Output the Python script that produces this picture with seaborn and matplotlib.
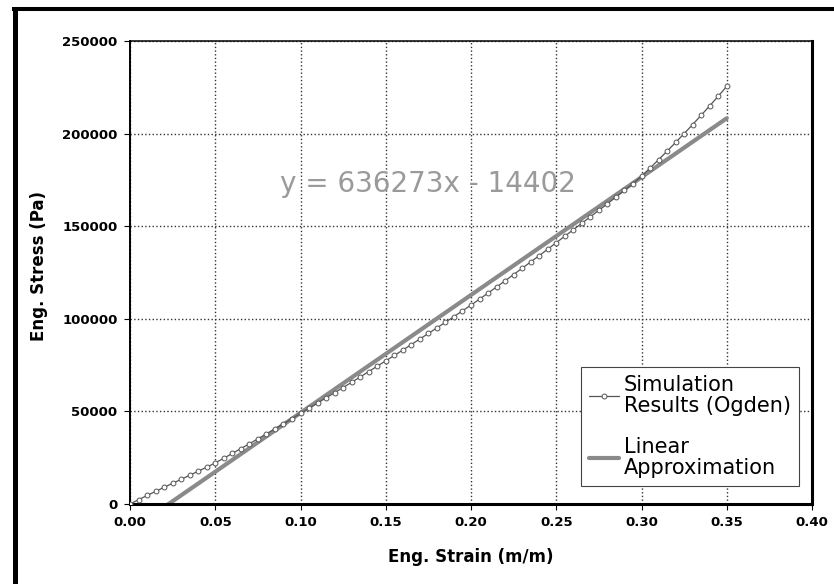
import pandas as pd
import matplotlib
matplotlib.use("Agg")
import matplotlib.pyplot as plt
from matplotlib.lines import Line2D
import seaborn as sns


# simulated stress-strain curve (Ogden)
strain = [0.000, 0.005, 0.010, 0.015, 0.020, 0.025, 0.030, 0.035, 0.040, 0.045,
          0.050, 0.055, 0.060, 0.065, 0.070, 0.075, 0.080, 0.085, 0.090, 0.095,
          0.100, 0.105, 0.110, 0.115, 0.120, 0.125, 0.130, 0.135, 0.140, 0.145,
          0.150, 0.155, 0.160, 0.165, 0.170, 0.175, 0.180, 0.185, 0.190, 0.195,
          0.200, 0.205, 0.210, 0.215, 0.220, 0.225, 0.230, 0.235, 0.240, 0.245,
          0.250, 0.255, 0.260, 0.265, 0.270, 0.275, 0.280, 0.285, 0.290, 0.295,
          0.300, 0.305, 0.310, 0.315, 0.320, 0.325, 0.330, 0.335, 0.340, 0.345,
          0.350]
stress = [0, 2300, 4600, 6800, 9000, 11200, 13300, 15500, 17700, 19900,
          22200, 24700, 27300, 29900, 32500, 35200, 37900, 40600, 43300, 46100,
          48900, 51700, 54500, 57300, 60100, 62900, 65700, 68600, 71500, 74400,
          77300, 80200, 83100, 86100, 89100, 92100, 95100, 98100, 101200, 104300,
          107400, 110600, 113900, 117200, 120500, 123900, 127300, 130700, 134100, 137600,
          141100, 144600, 148100, 151600, 155100, 158600, 162100, 165700, 169300, 173000,
          177000, 181400, 185900, 190500, 195200, 200000, 204900, 209900, 215000, 220200,
          225500]

# linear trendline  y = 636273x - 14402
slope = 636273
intercept = -14402
lin_strain = [0.0, 0.35]

x_ticks = [0.00, 0.05, 0.10, 0.15, 0.20, 0.25, 0.30, 0.35, 0.40]
y_ticks = [0, 50000, 100000, 150000, 200000, 250000]

sim = pd.DataFrame({"strain": strain, "stress": stress})
lin = pd.DataFrame({"strain": lin_strain})
lin["stress"] = slope * lin["strain"] + intercept

sns.set_style("white")
plt.rcParams["font.family"] = ["DejaVu Sans"]
plt.rcParams["text.color"] = "black"
plt.rcParams["axes.labelcolor"] = "black"
plt.rcParams["xtick.color"] = "black"
plt.rcParams["ytick.color"] = "black"

fig = plt.figure(figsize=(8.34, 5.84), dpi=100)
ax = fig.add_axes([130 / 834, 1 - 504 / 584, 682 / 834, 463 / 584])

sns.lineplot(data=sim, x="strain", y="stress", ax=ax, color="#555555",
             linewidth=0.9, marker="o", markersize=3.5, markerfacecolor="white",
             markeredgecolor="#555555", markeredgewidth=0.7,
             label="Simulation\nResults (Ogden)", zorder=3)
sns.lineplot(data=lin, x="strain", y="stress", ax=ax, color="#8a8a8a",
             linewidth=3, label="Linear\nApproximation", zorder=2)

ax.set_xlim(0, 0.40)
ax.set_ylim(0, 250000)
ax.set_xticks(x_ticks)
ax.set_yticks(y_ticks)
ax.set_xticklabels([f"{v:.2f}" for v in x_ticks], fontsize=9.5, fontweight="bold")
ax.set_yticklabels([f"{v:d}" for v in y_ticks], fontsize=9.5, fontweight="bold")
ax.tick_params(direction="out", length=4, width=0.8, color="black", pad=5,
               bottom=True, left=True)

ax.grid(True, color="#333333", linestyle=":", linewidth=1.0)
ax.set_axisbelow(True)

for side, w in [("bottom", 2.2), ("right", 2.2), ("left", 1.4), ("top", 1.1)]:
    ax.spines[side].set_visible(True)
    ax.spines[side].set_color("black")
    ax.spines[side].set_linewidth(w)

ax.set_xlabel("Eng. Strain (m/m)", fontsize=12, fontweight="bold")
ax.set_ylabel("Eng. Stress (Pa)", fontsize=12, fontweight="bold")
ax.xaxis.set_label_coords(0.5, -0.095)
ax.yaxis.set_label_coords(-0.12, 0.515)

ax.text(0.175, 173000, "y = 636273x - 14402", fontsize=20, color="#9a9a9a",
        ha="center", va="center", zorder=4)

leg = ax.legend(loc="lower right", bbox_to_anchor=(0.981, 0.039), fontsize=15,
                frameon=True, fancybox=False, framealpha=1, edgecolor="#444444",
                borderpad=0.4, handlelength=1.4, handletextpad=0.25,
                labelspacing=1.0, borderaxespad=0)
leg.get_frame().set_linewidth(0.8)
for t in leg.get_texts():
    t.set_linespacing(1.05)
    t.set_color("black")

# thick scan border on left and top
fig.add_artist(Line2D([14.5 / 834, 14.5 / 834], [0, 1 - 7 / 584],
                      transform=fig.transFigure, color="black", linewidth=3.6,
                      solid_capstyle="butt"))
fig.add_artist(Line2D([12 / 834, 1], [1 - 8.5 / 584, 1 - 8.5 / 584],
                      transform=fig.transFigure, color="black", linewidth=2.9,
                      solid_capstyle="butt"))

fig.savefig("out.png", dpi=100)
